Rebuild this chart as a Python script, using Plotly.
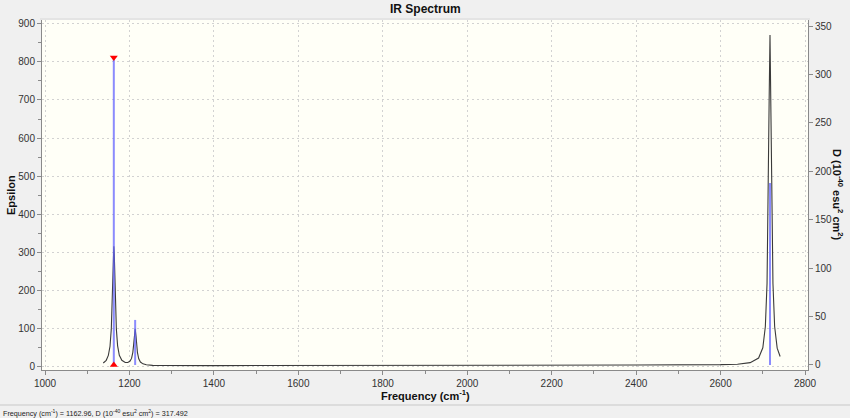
import plotly.graph_objects as go

# Spectrum curve (frequency cm^-1, epsilon)
freq = [1138, 1145, 1150, 1154, 1157, 1159, 1160, 1161, 1162, 1163, 1164, 1165, 1166, 1167,
        1169, 1172, 1176, 1182, 1190, 1196, 1201, 1205, 1208, 1210, 1211.5, 1213.5, 1215.5,
        1217, 1219, 1222, 1226, 1232, 1240, 1255, 1280, 1400, 1600, 1800, 1940, 1945, 2200,
        2400, 2600, 2640, 2670, 2690, 2700, 2706, 2710, 2713, 2715, 2717, 2719, 2721, 2724,
        2728, 2734, 2741]
epsilon = [8, 15, 28, 52, 97, 157, 201, 251, 296, 315, 296, 251, 201, 157,
           97, 53, 28, 15, 9.4, 9.3, 12.3, 20, 36, 57, 79, 98, 79,
           56, 35, 19, 10.5, 5.7, 3.2, 1.7, 1.2, 1.0, 1.0, 1.0, 1.0, 2.5, 2.5,
           2.6, 3.6, 4.8, 8.8, 21, 48, 104, 217, 438, 700, 871, 700, 438, 217,
           104, 47, 25]

# Stick spectrum (frequency, D in 10^-40 esu^2 cm^2)
stick_freq = [1162.96, 1213.5, 2717]
stick_D = [317.492, 46.5, 188]

# Selected peak
sel_freq = 1162.96
sel_D = 317.492

x_ticks = [1000, 1200, 1400, 1600, 1800, 2000, 2200, 2400, 2600, 2800]
y_ticks = [0, 100, 200, 300, 400, 500, 600, 700, 800, 900]
y2_ticks = [0, 50, 100, 150, 200, 250, 300, 350]

sx, sy = [], []
for f, d in zip(stick_freq, stick_D):
    sx += [f, f, None]
    sy += [0, d, None]

fig = go.Figure()
fig.add_trace(go.Scatter(x=freq, y=epsilon, mode="lines",
                         line=dict(color="#3a3a3a", width=1.1), hoverinfo="skip"))
fig.add_trace(go.Scatter(x=sx, y=sy, mode="lines", yaxis="y2",
                         line=dict(color="rgba(100,100,255,0.75)", width=2), hoverinfo="skip"))
fig.add_trace(go.Scatter(x=[sel_freq], y=[sel_D], mode="markers", yaxis="y2",
                         marker=dict(symbol="triangle-down", size=7, color="#FF0000")))
fig.add_trace(go.Scatter(x=[sel_freq], y=[0], mode="markers", yaxis="y2",
                         marker=dict(symbol="triangle-up", size=7, color="#FF0000")))

tickfont = dict(family="Liberation Sans, Arial", size=10, color="#333333")
axis_common = dict(showline=True, linecolor="#8a8a8a", linewidth=1, ticks="outside",
                   tickcolor="#8a8a8a", ticklen=4, tickfont=tickfont, zeroline=False,
                   automargin=False)
grid_style = dict(showgrid=True, gridcolor="#D2D2D2", griddash="2px,3px", gridwidth=1)

fig.update_layout(
    width=850, height=418,
    margin=dict(l=42, r=42, t=20, b=48),
    paper_bgcolor="#F0F0F0",
    plot_bgcolor="#FFFFF7",
    showlegend=False,
    xaxis=dict(range=[992.9, 2807], tickvals=x_ticks,
               minor=dict(dtick=100, tick0=1000, ticks="outside", ticklen=3,
                          tickcolor="#8a8a8a", showgrid=False),
               mirror=False, **grid_style, **axis_common),
    yaxis=dict(range=[-10.5, 910.5], tickvals=y_ticks,
               minor=dict(dtick=50, tick0=0, ticks="outside", ticklen=3,
                          tickcolor="#8a8a8a", showgrid=False),
               **grid_style, **axis_common),
    yaxis2=dict(range=[-5.2, 356.2], tickvals=y2_ticks, overlaying="y", side="right",
                showgrid=False, **axis_common),
)

fig.add_annotation(text="<b>IR Spectrum</b>", xref="paper", yref="paper", x=0.5,
                   y=(370 - 9) / 350, showarrow=False, yanchor="middle",
                   font=dict(family="Liberation Sans, Arial", size=12, color="#111111"))
fig.add_annotation(text="<b>Epsilon</b>", xref="paper", yref="paper",
                   x=(11 - 42) / 766, y=0.5, showarrow=False, textangle=-90,
                   xanchor="center", yanchor="middle",
                   font=dict(family="Liberation Sans, Arial", size=11, color="#111111"))
fig.add_annotation(text="<b>D (10<sup>-40</sup> esu<sup>2</sup> cm<sup>2</sup>)</b>",
                   xref="paper", yref="paper", x=(838 - 42) / 766, y=0.5,
                   showarrow=False, textangle=90, xanchor="center", yanchor="middle",
                   font=dict(family="Liberation Sans, Arial", size=11, color="#111111"))
fig.add_annotation(text="<b>Frequency (cm<sup>-1</sup>)</b>", xref="paper", yref="paper",
                   x=(425 - 42) / 766, y=(370 - 395) / 350, showarrow=False,
                   xanchor="center", yanchor="middle",
                   font=dict(family="Liberation Sans, Arial", size=11, color="#111111"))
fig.add_annotation(text="Frequency (cm<sup>-1</sup>) = 1162.96, D (10<sup>-40</sup> esu<sup>2</sup> cm<sup>2</sup>) = 317.492",
                   xref="paper", yref="paper", x=(1 - 42) / 766, y=(370 - 413) / 350,
                   showarrow=False, xanchor="left", yanchor="middle",
                   font=dict(family="Liberation Sans, Arial", size=7.2, color="#222222"))
# status bar separator
fig.add_shape(type="line", xref="paper", yref="paper", x0=-42 / 766, x1=808 / 766,
              y0=(370 - 405) / 350, y1=(370 - 405) / 350,
              line=dict(color="#C8C8C8", width=1))
# separator under title
fig.add_shape(type="line", xref="paper", yref="paper", x0=(40 - 42) / 766, x1=(810 - 42) / 766,
              y0=(370 - 19) / 350, y1=(370 - 19) / 350,
              line=dict(color="#D8D8D8", width=1))

fig.write_html("out.html", config={"displayModeBar": False},
               post_script="document.body.style.margin='0';document.body.style.overflow='hidden';")
